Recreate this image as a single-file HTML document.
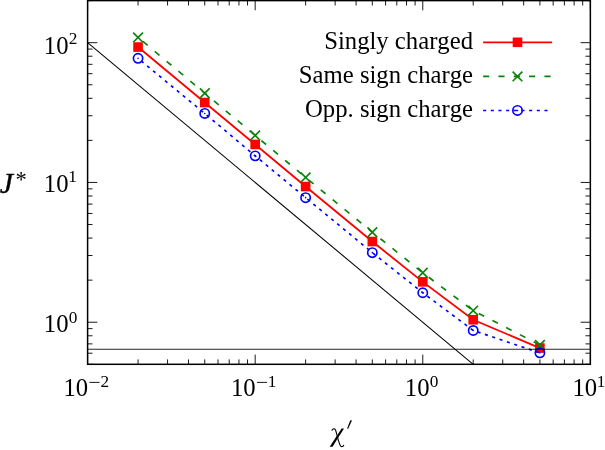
<!DOCTYPE html>
<html><head><meta charset="utf-8"><title>plot</title>
<style>
html,body{margin:0;padding:0;background:#fff;}
body{width:605px;height:450px;overflow:hidden;}
svg{display:block;will-change:transform;}
text{font-family:"Liberation Serif",serif;fill:#000;font-kerning:none;}
.i{font-style:italic;}
</style></head><body>
<svg width="605" height="450" viewBox="0 0 605 450">
<rect x="0" y="0" width="605" height="450" fill="#fff"/>

<g stroke="#000" stroke-width="0.9" fill="none">
<path d="M87.60 364.3V354.60M87.60 0.6V10.30"/>
<path d="M138.05 364.3V359.40M138.05 0.6V5.50"/>
<path d="M167.56 364.3V359.40M167.56 0.6V5.50"/>
<path d="M188.50 364.3V359.40M188.50 0.6V5.50"/>
<path d="M204.74 364.3V359.40M204.74 0.6V5.50"/>
<path d="M218.01 364.3V359.40M218.01 0.6V5.50"/>
<path d="M229.22 364.3V359.40M229.22 0.6V5.50"/>
<path d="M238.94 364.3V359.40M238.94 0.6V5.50"/>
<path d="M247.52 364.3V359.40M247.52 0.6V5.50"/>
<path d="M255.18 364.3V354.60M255.18 0.6V10.30"/>
<path d="M305.63 364.3V359.40M305.63 0.6V5.50"/>
<path d="M335.14 364.3V359.40M335.14 0.6V5.50"/>
<path d="M356.08 364.3V359.40M356.08 0.6V5.50"/>
<path d="M372.32 364.3V359.40M372.32 0.6V5.50"/>
<path d="M385.59 364.3V359.40M385.59 0.6V5.50"/>
<path d="M396.81 364.3V359.40M396.81 0.6V5.50"/>
<path d="M406.53 364.3V359.40M406.53 0.6V5.50"/>
<path d="M415.10 364.3V359.40M415.10 0.6V5.50"/>
<path d="M422.77 364.3V354.60M422.77 0.6V10.30"/>
<path d="M473.21 364.3V359.40M473.21 0.6V5.50"/>
<path d="M502.72 364.3V359.40M502.72 0.6V5.50"/>
<path d="M523.66 364.3V359.40M523.66 0.6V5.50"/>
<path d="M539.90 364.3V359.40M539.90 0.6V5.50"/>
<path d="M553.17 364.3V359.40M553.17 0.6V5.50"/>
<path d="M564.39 364.3V359.40M564.39 0.6V5.50"/>
<path d="M574.11 364.3V359.40M574.11 0.6V5.50"/>
<path d="M582.68 364.3V359.40M582.68 0.6V5.50"/>
<path d="M590.35 364.3V354.60M590.35 0.6V10.30"/>
<path d="M87.6 364.30H92.50M590.35 364.30H585.45"/>
<path d="M87.6 353.23H92.50M590.35 353.23H585.45"/>
<path d="M87.6 343.88H92.50M590.35 343.88H585.45"/>
<path d="M87.6 335.77H92.50M590.35 335.77H585.45"/>
<path d="M87.6 328.62H92.50M590.35 328.62H585.45"/>
<path d="M87.6 322.22H97.30M590.35 322.22H580.65"/>
<path d="M87.6 280.15H92.50M590.35 280.15H585.45"/>
<path d="M87.6 255.53H92.50M590.35 255.53H585.45"/>
<path d="M87.6 238.07H92.50M590.35 238.07H585.45"/>
<path d="M87.6 224.53H92.50M590.35 224.53H585.45"/>
<path d="M87.6 213.46H92.50M590.35 213.46H585.45"/>
<path d="M87.6 204.10H92.50M590.35 204.10H585.45"/>
<path d="M87.6 196.00H92.50M590.35 196.00H585.45"/>
<path d="M87.6 188.85H92.50M590.35 188.85H585.45"/>
<path d="M87.6 182.45H97.30M590.35 182.45H580.65"/>
<path d="M87.6 140.37H92.50M590.35 140.37H585.45"/>
<path d="M87.6 115.76H92.50M590.35 115.76H585.45"/>
<path d="M87.6 98.30H92.50M590.35 98.30H585.45"/>
<path d="M87.6 84.75H92.50M590.35 84.75H585.45"/>
<path d="M87.6 73.68H92.50M590.35 73.68H585.45"/>
<path d="M87.6 64.33H92.50M590.35 64.33H585.45"/>
<path d="M87.6 56.22H92.50M590.35 56.22H585.45"/>
<path d="M87.6 49.07H92.50M590.35 49.07H585.45"/>
<path d="M87.6 42.68H97.30M590.35 42.68H580.65"/>
<path d="M87.6 0.60H92.50M590.35 0.60H585.45"/>
</g>
<polyline points="138.05,47.05 204.74,102.55 255.18,144.45 305.63,186.55 372.32,241.55 422.77,281.85 473.21,319.75 539.90,348.05" fill="none" stroke="#ff0000" stroke-width="1.8"/>
<rect x="133.25" y="42.25" width="9.6" height="9.6" fill="#ff0000"/>
<rect x="199.94" y="97.75" width="9.6" height="9.6" fill="#ff0000"/>
<rect x="250.38" y="139.65" width="9.6" height="9.6" fill="#ff0000"/>
<rect x="300.83" y="181.75" width="9.6" height="9.6" fill="#ff0000"/>
<rect x="367.52" y="236.75" width="9.6" height="9.6" fill="#ff0000"/>
<rect x="417.97" y="277.05" width="9.6" height="9.6" fill="#ff0000"/>
<rect x="468.41" y="314.95" width="9.6" height="9.6" fill="#ff0000"/>
<rect x="535.10" y="343.25" width="9.6" height="9.6" fill="#ff0000"/>
<polyline points="138.05,37.40 204.74,93.20 255.18,135.40 305.63,177.40 372.32,232.20 422.77,272.80 473.21,310.60 539.90,344.90" fill="none" stroke="#0a830a" stroke-width="1.65" stroke-dasharray="6.18 9.26" stroke-dashoffset="-6.35"/>
<path d="M133.20 32.55L142.90 42.25M133.20 42.25L142.90 32.55" stroke="#0a830a" stroke-width="1.65" fill="none"/>
<path d="M199.89 88.35L209.59 98.05M199.89 98.05L209.59 88.35" stroke="#0a830a" stroke-width="1.65" fill="none"/>
<path d="M250.33 130.55L260.03 140.25M250.33 140.25L260.03 130.55" stroke="#0a830a" stroke-width="1.65" fill="none"/>
<path d="M300.78 172.55L310.48 182.25M300.78 182.25L310.48 172.55" stroke="#0a830a" stroke-width="1.65" fill="none"/>
<path d="M367.47 227.35L377.17 237.05M367.47 237.05L377.17 227.35" stroke="#0a830a" stroke-width="1.65" fill="none"/>
<path d="M417.92 267.95L427.62 277.65M417.92 277.65L427.62 267.95" stroke="#0a830a" stroke-width="1.65" fill="none"/>
<path d="M468.36 305.75L478.06 315.45M468.36 315.45L478.06 305.75" stroke="#0a830a" stroke-width="1.65" fill="none"/>
<path d="M535.05 340.05L544.75 349.75M535.05 349.75L544.75 340.05" stroke="#0a830a" stroke-width="1.65" fill="none"/>
<polyline points="138.05,58.35 204.74,113.45 255.18,155.85 305.63,197.65 372.32,252.65 422.77,292.75 473.21,330.45 539.90,352.85" fill="none" stroke="#0000ff" stroke-width="1.65" stroke-dasharray="3.09 4.63" stroke-dashoffset="-4.06"/>
<circle cx="138.05" cy="58.35" r="4.65" stroke="#0000ff" stroke-width="1.65" fill="none"/><circle cx="138.05" cy="58.35" r="0.8" fill="#0000ff"/>
<circle cx="204.74" cy="113.45" r="4.65" stroke="#0000ff" stroke-width="1.65" fill="none"/><circle cx="204.74" cy="113.45" r="0.8" fill="#0000ff"/>
<circle cx="255.18" cy="155.85" r="4.65" stroke="#0000ff" stroke-width="1.65" fill="none"/><circle cx="255.18" cy="155.85" r="0.8" fill="#0000ff"/>
<circle cx="305.63" cy="197.65" r="4.65" stroke="#0000ff" stroke-width="1.65" fill="none"/><circle cx="305.63" cy="197.65" r="0.8" fill="#0000ff"/>
<circle cx="372.32" cy="252.65" r="4.65" stroke="#0000ff" stroke-width="1.65" fill="none"/><circle cx="372.32" cy="252.65" r="0.8" fill="#0000ff"/>
<circle cx="422.77" cy="292.75" r="4.65" stroke="#0000ff" stroke-width="1.65" fill="none"/><circle cx="422.77" cy="292.75" r="0.8" fill="#0000ff"/>
<circle cx="473.21" cy="330.45" r="4.65" stroke="#0000ff" stroke-width="1.65" fill="none"/><circle cx="473.21" cy="330.45" r="0.8" fill="#0000ff"/>
<circle cx="539.90" cy="352.85" r="4.65" stroke="#0000ff" stroke-width="1.65" fill="none"/><circle cx="539.90" cy="352.85" r="0.8" fill="#0000ff"/>
<path d="M87.6 42.68L473.21 364.3" stroke="#000" stroke-width="1.05" fill="none"/>
<path d="M87.6 349.25H590.35" stroke="#000" stroke-width="0.85" fill="none"/>
<rect x="87.6" y="0.6" width="502.75" height="363.70" fill="none" stroke="#000" stroke-width="1.5"/>
<text x="473.0" y="48.5" font-size="24.7" text-anchor="end">Singly charged</text>
<text x="473.0" y="82.6" font-size="24.7" text-anchor="end">Same sign charge</text>
<text x="473.0" y="116.7" font-size="24.7" text-anchor="end">Opp. sign charge</text>
<path d="M483.1 42.3H552.1" stroke="#ff0000" stroke-width="1.8"/><rect x="512.70" y="37.50" width="9.6" height="9.6" fill="#ff0000"/>
<path d="M483.1 76.4H552.1" stroke="#0a830a" stroke-width="1.65" stroke-dasharray="6.13 9.2"/><path d="M512.65 71.55L522.35 81.25M512.65 81.25L522.35 71.55" stroke="#0a830a" stroke-width="1.65" fill="none"/>
<path d="M483.1 110.45H552.1" stroke="#0000ff" stroke-width="1.65" stroke-dasharray="3.07 4.6"/><circle cx="517.50" cy="110.45" r="4.65" stroke="#0000ff" stroke-width="1.65" fill="none"/><circle cx="517.50" cy="110.45" r="0.8" fill="#0000ff"/>
<text x="43.83" y="53.50" font-size="24.7">10</text><text x="68.71" y="44.20" font-size="17.3">2</text>
<text x="43.83" y="191.60" font-size="24.7">10</text><text x="68.30" y="182.30" font-size="17.3">1</text>
<text x="43.83" y="332.40" font-size="24.7">10</text><text x="68.71" y="323.10" font-size="17.3">0</text>
<text x="63.43" y="396.00" font-size="24.7">10</text><rect x="89.40" y="381.90" width="10.2" height="0.9" fill="#000"/><text x="100.61" y="386.70" font-size="17.3">2</text>
<text x="231.01" y="396.00" font-size="24.7">10</text><rect x="256.98" y="381.90" width="10.2" height="0.9" fill="#000"/><text x="267.78" y="386.70" font-size="17.3">1</text>
<text x="404.79" y="396.00" font-size="24.7">10</text><text x="429.67" y="386.70" font-size="17.3">0</text>
<text x="572.38" y="396.00" font-size="24.7">10</text><text x="596.85" y="386.70" font-size="17.3">1</text>
<text class="i" x="-0.2" y="192.5" font-size="29.8" stroke="#000" stroke-width="0.35">J</text>
<text x="15.4" y="187.4" font-size="22.5">*</text>
<path d="M329.7 446.8L332.5 446.8L344.0 428.4L341.6 428.4Z" fill="#000"/>
<path d="M332.0 430.3C332.5 428.9 333.7 428.4 334.8 429.0C335.9 429.8 336.0 431.6 336.5 433.3L338.7 441.3C339.3 443.4 339.8 445.2 340.7 446.1C341.7 447.0 343.2 446.6 343.7 445.2" fill="none" stroke="#000" stroke-width="1.1" stroke-linecap="round"/>
<path d="M350.3 420.2L352.0 420.6L348.0 428.9L347.1 428.6Z" fill="#000"/>
</svg></body></html>
